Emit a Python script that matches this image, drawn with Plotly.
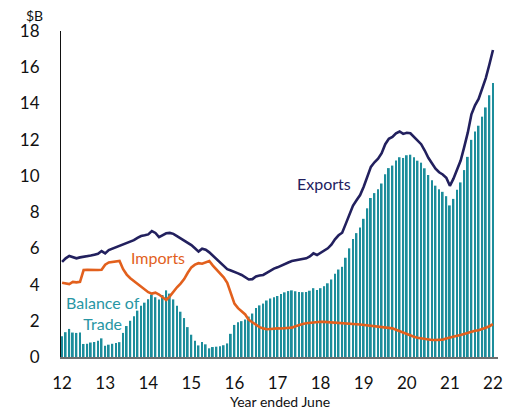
import plotly.graph_objects as go

# Month index 0 = year ended June 2012, 120 = year ended June 2022
tick_vals = [0, 12, 24, 36, 48, 60, 72, 84, 96, 108, 120]
tick_text = ["12", "13", "14", "15", "16", "17", "18", "19", "20", "21", "22"]

exports = [
    5.25, 5.45, 5.58, 5.50, 5.45, 5.50, 5.52, 5.55, 5.60, 5.65, 5.70, 5.85,
    5.72, 5.90, 5.98, 6.05, 6.12, 6.18, 6.26, 6.35, 6.45, 6.58, 6.68, 6.72,
    6.77, 6.95, 6.85, 6.62, 6.72, 6.83, 6.85, 6.80, 6.68, 6.55, 6.45, 6.30,
    6.18, 6.00, 5.82, 5.98, 5.92, 5.78, 5.60, 5.42, 5.25, 5.05, 4.85, 4.78,
    4.72, 4.62, 4.53, 4.42, 4.28, 4.30, 4.45, 4.50, 4.53, 4.65, 4.78, 4.88,
    4.95, 5.05, 5.15, 5.22, 5.30, 5.33, 5.36, 5.40, 5.45, 5.55, 5.72, 5.63,
    5.75, 5.85, 6.00, 6.20, 6.50, 6.72, 6.86, 7.35, 7.85, 8.35, 8.65, 8.94,
    9.40, 9.95, 10.50, 10.75, 10.95, 11.25, 11.75, 12.05, 12.15, 12.35, 12.45, 12.32,
    12.38, 12.35, 12.15, 11.90, 11.75, 11.40, 11.00, 10.70, 10.40, 10.20, 10.08, 9.90,
    9.45, 9.85, 10.40, 10.85, 11.60, 12.40, 13.40, 13.90, 14.25, 14.80, 15.40, 16.15,
    16.95,
]

imports = [
    4.10, 4.08, 4.03, 4.15, 4.12, 4.15, 4.80, 4.82, 4.80, 4.82, 4.80, 4.82,
    5.10, 5.22, 5.25, 5.28, 5.30, 4.85, 4.55, 4.35, 4.20, 4.02, 3.85, 3.72,
    3.58, 3.50, 3.55, 3.45, 3.30, 3.15, 3.35, 3.62, 3.85, 4.05, 4.30, 4.65,
    4.95, 5.10, 5.18, 5.15, 5.22, 5.30, 5.05, 4.85, 4.65, 4.40, 4.10, 3.50,
    2.95, 2.70, 2.55, 2.35, 2.05, 1.90, 1.75, 1.65, 1.58, 1.53, 1.55, 1.58,
    1.58, 1.57, 1.58, 1.58, 1.62, 1.70, 1.77, 1.82, 1.86, 1.89, 1.92, 1.93,
    1.95, 1.94, 1.93, 1.92, 1.90, 1.89, 1.88, 1.87, 1.85, 1.83, 1.81, 1.79,
    1.77, 1.74, 1.72, 1.70, 1.69, 1.67, 1.66, 1.62, 1.58, 1.50, 1.42, 1.33,
    1.24, 1.18, 1.12, 1.06, 1.02, 0.98, 0.95, 0.94, 0.94, 0.94, 0.96, 1.02,
    1.08, 1.12, 1.17, 1.21, 1.28, 1.35, 1.41, 1.45, 1.48, 1.53, 1.62, 1.70,
    1.82,
]

balance = [
    1.15, 1.37, 1.55, 1.35, 1.33, 1.35, 0.72, 0.73, 0.80, 0.83, 0.90, 1.03,
    0.62, 0.68, 0.73, 0.77, 0.82, 1.33, 1.71, 2.00, 2.25, 2.56, 2.83, 3.00,
    3.19, 3.45, 3.30, 3.17, 3.42, 3.68, 3.50, 3.18, 2.83, 2.50, 2.15, 1.65,
    1.23, 0.90, 0.64, 0.83, 0.70, 0.48, 0.55, 0.57, 0.60, 0.65, 0.75, 1.28,
    1.77, 1.92, 1.98, 2.07, 2.23, 2.40, 2.70, 2.85, 2.95, 3.12, 3.23, 3.30,
    3.37, 3.48, 3.57, 3.64, 3.68, 3.63, 3.59, 3.58, 3.59, 3.66, 3.80, 3.70,
    3.80, 3.91, 4.07, 4.28, 4.60, 4.83, 4.98, 5.48, 6.00, 6.52, 6.84, 7.15,
    7.63, 8.21, 8.78, 9.05, 9.26, 9.58, 10.09, 10.43, 10.57, 10.85, 11.03, 10.99,
    11.14, 11.17, 11.03, 10.84, 10.73, 10.42, 10.05, 9.76, 9.46, 9.26, 9.12, 8.88,
    8.37, 8.73, 9.23, 9.64, 10.32, 11.05, 11.99, 12.45, 12.77, 13.27, 13.78, 14.45,
    15.13,
]

months = list(range(len(exports)))

NAVY = "#22205e"
ORANGE = "#e2601d"
TEAL = "#1c8d9b"
FONT = "Lato, 'Noto Sans', sans-serif"

fig = go.Figure()
fig.add_trace(go.Bar(
    x=months, y=balance, width=0.5,
    marker=dict(color=TEAL, line=dict(width=0)),
    hoverinfo="skip",
))
fig.add_trace(go.Scatter(
    x=months, y=imports, mode="lines",
    line=dict(color=ORANGE, width=2.6),
))
fig.add_trace(go.Scatter(
    x=months, y=exports, mode="lines",
    line=dict(color=NAVY, width=2.6),
))

# The page body has an 8px default margin, so the figure is 8px smaller
fig.update_layout(
    width=509, height=402,
    margin=dict(l=53, r=19, t=23, b=53),
    paper_bgcolor="white", plot_bgcolor="white",
    showlegend=False,
    font=dict(family=FONT, size=17, color="#111111"),
    xaxis=dict(
        range=[-0.3, 121.4], automargin=False,
        tickmode="array", tickvals=tick_vals, ticktext=tick_text,
        showgrid=False, zeroline=False,
        showline=True, linecolor="#6e6e6e", linewidth=2,
        ticks="", ticklabelstandoff=10,
        tickfont=dict(size=17, family=FONT, color="#111111"),
    ),
    yaxis=dict(
        range=[0, 18], automargin=False, tickvals=list(range(0, 19, 2)),
        showgrid=False, zeroline=False,
        showline=True, linecolor="#111111", linewidth=1,
        ticks="", ticklabelstandoff=17,
        tickfont=dict(size=17, family=FONT, color="#111111"),
    ),
    annotations=[
        dict(text="$B", xref="paper", yref="paper", x=-0.06, y=1.0,
             xanchor="center", yanchor="bottom", yshift=6, borderpad=0,
             showarrow=False,
             font=dict(size=14, family=FONT, color="#111111")),
        dict(text="Year ended June", xref="paper", yref="paper", x=0.5, y=0,
             xanchor="center", yanchor="middle", yshift=-44, showarrow=False,
             font=dict(size=14, family=FONT, color="#111111")),
        dict(text="Exports", x=72.9, y=9.6, xref="x", yref="y",
             showarrow=False, font=dict(size=16, family=FONT, color=NAVY)),
        dict(text="Imports", x=26.7, y=5.47, xref="x", yref="y",
             showarrow=False, font=dict(size=16, family=FONT, color=ORANGE)),
        dict(text="Balance of<br>Trade", x=11.4, y=2.43, xref="x", yref="y",
             showarrow=False, align="center",
             font=dict(size=16, family=FONT, color="#2896a4")),
    ],
)

fig.write_html("out.html")
